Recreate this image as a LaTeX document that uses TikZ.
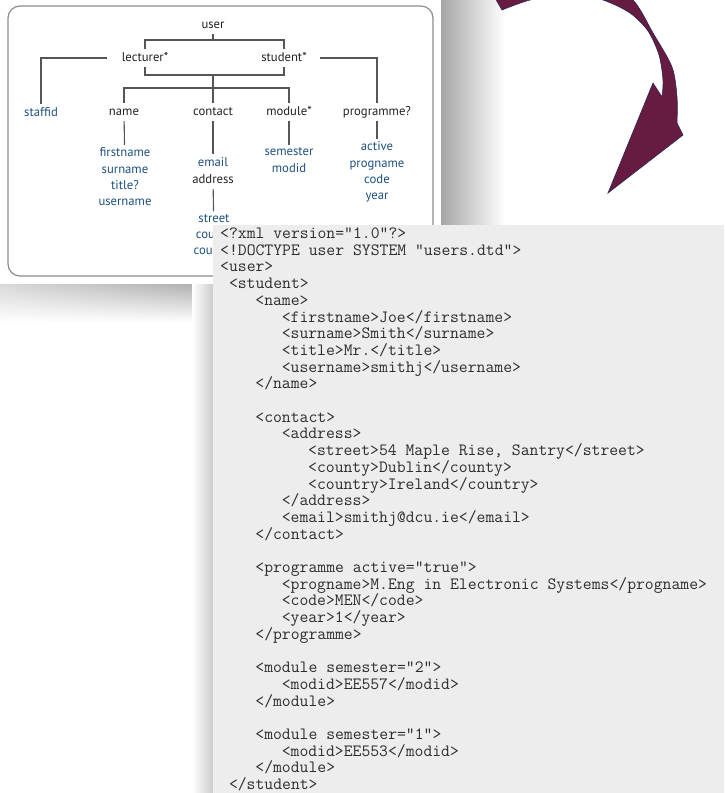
\documentclass[tikz,border=0pt]{standalone}
\usepackage{fontspec}
\usetikzlibrary{shadings}
\newfontfamily\treefam{PT Sans}
\newcommand\treefont{\treefam\fontsize{12.7}{16.3}\selectfont}
\newcommand\codefont{\ttfamily\fontsize{17.2}{16.7}\selectfont}

\definecolor{elemcol}{RGB}{34,34,34}
\definecolor{attrcol}{RGB}{30,80,128}
\definecolor{linkcol}{RGB}{85,85,85}
\definecolor{framecol}{RGB}{140,140,140}
\definecolor{codebg}{RGB}{237,237,237}
\definecolor{codecol}{RGB}{45,45,45}
\definecolor{arrowfill}{RGB}{103,27,64}
\definecolor{arrowedge}{RGB}{40,40,90}

\tikzset{
  elem/.style={font=\treefont, text=elemcol, inner xsep=3pt, inner ysep=4pt, text height=8pt, text depth=2pt},
  attr/.style={elem, text=attrcol},
  attrlist/.style={font=\treefont, text=attrcol, align=center, inner sep=3pt},
  link/.style={draw=linkcol, line width=1.1pt},
  frame/.style={draw=framecol, line width=1.2pt, rounded corners=12pt},
  codeline/.style={font=\codefont, text=codecol, anchor=base west, inner sep=0pt},
  curvearrow/.style={fill=arrowfill, draw=arrowedge, line width=0.6pt}
}

\begin{document}
\begin{tikzpicture}[x=1pt, y=-1pt]
\useasboundingbox (0,0) rectangle (724,793);
\fill[white] (0,0) rectangle (724,793);

% shadows of the schema card
\shade[left color=gray!70, right color=white] (441,0) rectangle (505,225);
\shade[upper left=gray!30, upper right=gray!65, lower left=white, lower right=white] (0,284) rectangle (213,322);
\fill[white] (0,0) rectangle (441,284);
\draw[frame] (8,6) rectangle (433,276);

% schema tree
\node[elem] (user) at (213,25) {user};
\node[elem] (lecturer) at (145,58) {lecturer*};
\node[elem] (student) at (284,58) {student*};
\node[attr] (staffid) at (41,113) {staffid};
\node[elem] (name) at (124,112) {name};
\node[elem] (contact) at (213,112) {contact};
\node[elem] (module) at (289,112) {module*};
\node[elem] (programme) at (377,112) {programme?};
\node[attrlist] (namekids) at (125,177) {firstname\\surname\\title?\\username};
\node[attr] (email) at (213,163) {email};
\node[elem] (address) at (213,180) {address};
\node[attrlist] (addrkids) at (214,236) {street\\county\\country};
\node[attrlist] (modkids) at (289,160) {semester\\modid};
\node[attrlist] (progkids) at (377,172) {active\\progname\\code\\year};

\coordinate (top) at (213,40);
\coordinate (join) at (213,75);
\coordinate (split) at (213,88);

\draw[link] (user) -- (top);
\draw[link] (lecturer.north) |- (top) -| (student.north);
\draw[link] (lecturer.south) |- (join) -| (student.south);
\draw[link] (join) -- (contact);
\draw[link] (name.north) |- (split) -| (module.north);
\draw[link] ([xshift=-12pt]lecturer.west) -| (staffid.north);
\draw[link] ([xshift=10pt]student.east) -| (programme.north);
\draw[link] (name) -- (namekids);
\draw[link] (contact) -- (email);
\draw[link] (address) -- (addrkids);
\draw[link] (module) -- (modkids);
\draw[link] (programme) -- (progkids);

% curved arrow
\begin{scope}
\clip (0,0) rectangle (724,793);
\path[curvearrow] (488,-14) -- (502,10)
  -- plot[smooth] coordinates {(502,10) (530,0) (570,-7) (603,0) (630,13) (648,31) (659,55) (663,80) (662,97)}
  -- (653,83) -- (608,193) -- (683,135) -- (677,123)
  -- plot[smooth] coordinates {(677,123) (677,97) (672,67) (653,33) (633,0) (600,-22) (560,-30) (520,-28) (488,-14)}
  -- cycle;
\end{scope}

% xml listing
\shade[left color=white, right color=gray!40] (192,284) rectangle (213,793);
\fill[codebg] (213,225) rectangle (724,793);
\foreach \row/\ind/\txt in {
  0/0/{<?xml version="1.0"?>},
  1/0/{<!DOCTYPE user SYSTEM "users.dtd">},
  2/0/{<user>},
  3/1/{<student>},
  4/4/{<name>},
  5/7/{<firstname>Joe</firstname>},
  6/7/{<surname>Smith</surname>},
  7/7/{<title>Mr.</title>},
  8/7/{<username>smithj</username>},
  9/4/{</name>},
  11/4/{<contact>},
  12/7/{<address>},
  13/10/{<street>54 Maple Rise, Santry</street>},
  14/10/{<county>Dublin</county>},
  15/10/{<country>Ireland</country>},
  16/7/{</address>},
  17/7/{<email>smithj@dcu.ie</email>},
  18/4/{</contact>},
  20/4/{<programme active="true">},
  21/7/{<progname>M.Eng in Electronic Systems</progname>},
  22/7/{<code>MEN</code>},
  23/7/{<year>1</year>},
  24/4/{</programme>},
  26/4/{<module semester="2">},
  27/7/{<modid>EE557</modid>},
  28/4/{</module>},
  30/4/{<module semester="1">},
  31/7/{<modid>EE553</modid>},
  32/4/{</module>},
  33/1/{</student>}}
  \node[codeline] (line\row) at (220+8.8*\ind, 238.5+16.7*\row) {\txt};
\end{tikzpicture}
\end{document}
